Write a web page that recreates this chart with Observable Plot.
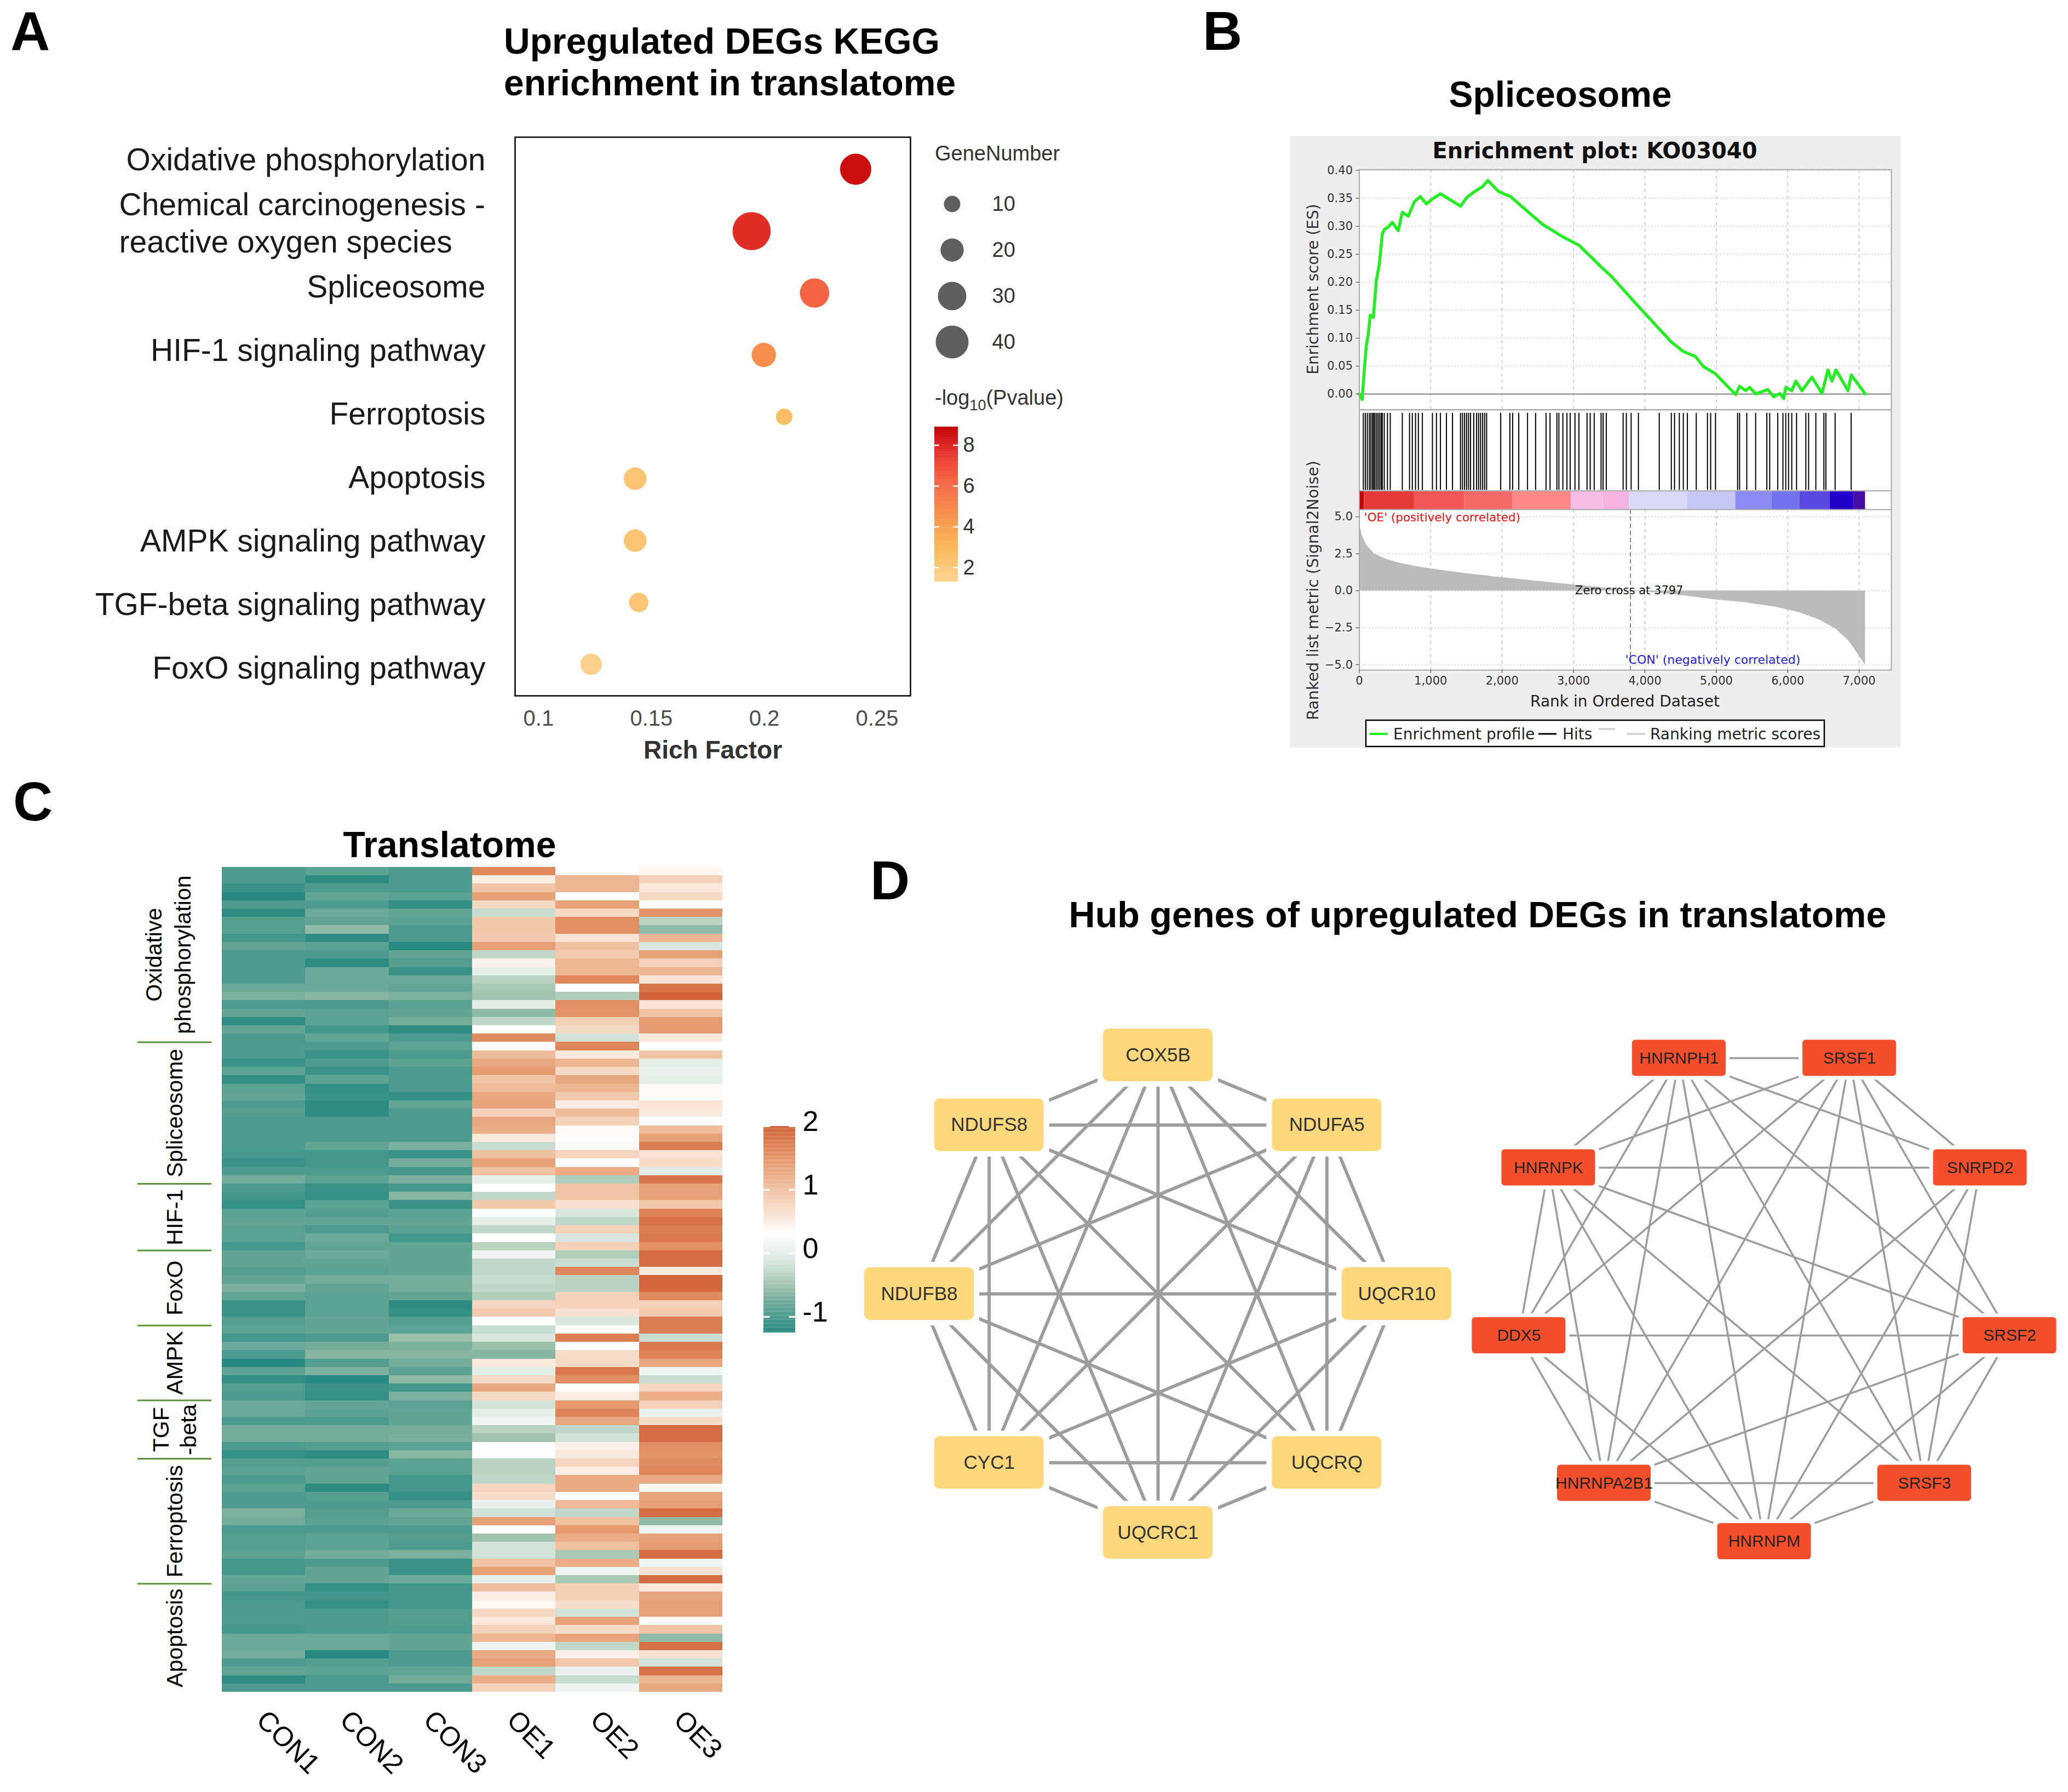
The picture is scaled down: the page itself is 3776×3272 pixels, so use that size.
<!DOCTYPE html>
<html><head><meta charset="utf-8">
<script src="https://cdn.jsdelivr.net/npm/d3@7"></script>
<script src="https://cdn.jsdelivr.net/npm/@observablehq/plot@0.6"></script>
<style>
html,body{margin:0;padding:0;background:#fff;}
#page{position:relative;width:3776px;height:3272px;overflow:hidden;background:#fff;}
</style></head><body><div id="page"></div>
<script>
// ---------------- Panel A data ----------------
const keggTerms = ["Oxidative phosphorylation","Chemical carcinogenesis -\nreactive oxygen species","Spliceosome","HIF-1 signaling pathway","Ferroptosis","Apoptosis","AMPK signaling pathway","TGF-beta signaling pathway","FoxO signaling pathway"];
const keggRichFactor = [0.2405,0.1944,0.2223,0.1998,0.2088,0.1428,0.1428,0.1444,0.1233];
const keggGeneNumber = [36,54,32,22,10,19,19,14,17];
const keggLogP = [8.5,7.7,6.2,4.6,2.6,2.2,2.2,2.1,1.5];
const richTicks = [0.1,0.15,0.2,0.25];
const sizeLegend = [10,20,30,40];
const logPTicks = [2,4,6,8];

// ---------------- Panel B data (GSEA) ----------------
const esRank = [0,40,68,96,124,153,197,237,281,321,349,406,462,546,602,686,771,855,939,1024,1137,1277,1418,1502,1614,1727,1800,1952,2120,2289,2571,2852,3077,3414,3527,3864,4146,4370,4539,4708,4821,4989,5270,5327,5411,5467,5551,5720,5804,5889,5945,5974,6058,6114,6199,6339,6480,6564,6620,6676,6845,6890,7087];
const esValue = [0,-0.01,0.04,0.084,0.106,0.141,0.137,0.202,0.233,0.285,0.294,0.299,0.307,0.292,0.325,0.318,0.344,0.353,0.340,0.349,0.358,0.347,0.336,0.351,0.362,0.371,0.382,0.362,0.353,0.334,0.303,0.281,0.266,0.224,0.211,0.163,0.124,0.093,0.076,0.067,0.049,0.036,-0.001,0.014,0.006,0.012,0,0.008,-0.005,0.001,-0.008,0.012,0.006,0.023,0.006,0.030,0.001,0.043,0.023,0.043,0.006,0.034,0];
const hitRanks = [56,84,112,141,163,186,202,219,242,264,287,309,321,349,394,433,602,703,742,787,827,883,1024,1080,1136,1220,1305,1417,1445,1474,1502,1530,1558,1603,1642,1670,1698,1727,1755,1783,1980,2109,2148,2233,2356,2469,2615,2671,2767,2795,2851,2908,2953,3020,3076,3189,3234,3290,3386,3414,3459,3695,3740,3807,3909,4201,4370,4415,4482,4538,4595,4719,4876,4921,4989,5298,5326,5427,5551,5708,5748,5860,5933,5973,6012,6057,6124,6254,6293,6394,6507,6535,6664,6889];
const metricRank = [0,39,96,208,377,602,883,1164,1558,2008,2514,3020,3414,3797,4257,4595,4989,5382,5832,6169,6451,6676,6845,6957,7041,7087];
const metricValue = [4.5,3.76,3.13,2.51,2.14,1.83,1.58,1.39,1.14,0.90,0.65,0.40,0.21,0,-0.16,-0.35,-0.60,-0.78,-1.09,-1.47,-1.97,-2.59,-3.33,-4.08,-4.70,-5.01];
const barStart = [0,67,770,1473,2148,2964,3414,3779,4595,5270,5776,6170,6591,6929];
const barEnd   = [67,770,1473,2148,2964,3414,3779,4595,5270,5776,6170,6591,6929,7087];
const barColor = ["#c80000","#e43a3a","#f25656","#f76a6a","#fa8888","#f7bde6","#f3b3de","#d9d9f9","#c7c7f5","#8c8cf4","#7272f0","#5848e0","#2400cc","#4a0ca6"];
const zeroCross = 3797;
const esTicks = [0,0.05,0.1,0.15,0.2,0.25,0.3,0.35,0.4];
const rankTicks = [0,1000,2000,3000,4000,5000,6000,7000];
const metricTicks = [-5,-2.5,0,2.5,5];

// ---------------- Panel C data (heatmap, 99 genes) ----------------
const samples = ["CON1","CON2","CON3","OE1","OE2","OE3"];
const groupNames = ["Oxidative\nphosphorylation","Spliceosome","HIF-1","FoxO","AMPK","TGF\n-beta","Ferroptosis","Apoptosis"];
const groupSizes = [21,17,8,9,9,7,15,13];
const CON1 = [-1.0,-1.0,-1.1,-1.25,-1.0,-1.2,-0.95,-0.95,-1.05,-0.85,-1.0,-1.0,-1.0,-1.0,-0.8,-0.7,-1.0,-0.85,-1.2,-0.85,-1.0,-1.0,-1.0,-1.1,-0.9,-1.15,-0.9,-0.85,-1.0,-0.95,-1.0,-1.0,-1.0,
 -1.0,-1.05,-1.1,-1.0,-0.75,-1.0,-1.05,-1.15,-0.9,-0.85,-0.9,-0.9,-1.05,-0.85,-0.85,-0.95,-0.85,-0.7,-0.85,-1.1,-1.1,-0.95,-0.9,-1.05,-0.8,-1.0,-1.25,-0.9,-1.15,-0.95,-1.0,-0.8,-0.8,
 -1.0,-0.75,-0.75,-1.0,-1.15,-0.95,-0.9,-1.0,-0.9,-1.0,-1.0,-0.7,-0.75,-1.0,-0.95,-0.95,-0.9,-1.05,-1.05,-0.85,-0.9,-1.05,-1.0,-1.0,-1.0,-1.05,-0.8,-0.8,-0.75,-1.0,-0.85,-1.2,-1.0];
const CON2 = [-0.9,-1.2,-1.0,-0.85,-1.0,-0.8,-0.85,-0.6,-1.2,-0.9,-1.0,-1.2,-0.8,-0.8,-0.8,-0.65,-1.0,-0.9,-0.9,-1.05,-0.85,-1.0,-1.1,-1.0,-1.1,-0.9,-1.15,-1.1,-1.2,-1.2,-1.0,-1.0,-1.0,
 -0.85,-1.05,-1.05,-1.0,-0.9,-1.1,-1.15,-0.9,-0.95,-0.85,-1.0,-0.8,-0.85,-0.8,-0.85,-0.9,-0.75,-0.85,-0.9,-0.9,-0.9,-0.85,-0.85,-1.0,-0.75,-0.65,-0.95,-0.7,-1.25,-1.1,-1.15,-0.85,-0.9,
 -1.0,-0.75,-0.75,-0.95,-1.2,-0.95,-0.85,-0.85,-1.2,-0.95,-1.0,-0.95,-0.9,-1.0,-0.9,-0.9,-0.75,-1.0,-0.85,-0.85,-1.15,-1.05,-1.15,-1.0,-1.0,-1.0,-0.8,-0.8,-1.25,-0.95,-0.9,-1.0,-1.0];
const CON3 = [-1.0,-1.0,-1.0,-0.9,-1.15,-0.85,-0.9,-1.0,-1.0,-1.25,-0.85,-0.95,-1.1,-0.8,-0.85,-0.7,-0.9,-0.85,-0.75,-1.2,-1.0,-0.9,-1.0,-0.9,-1.0,-1.0,-1.0,-1.15,-0.85,-1.0,-1.0,-1.0,-1.0,
 -0.7,-1.1,-0.75,-1.05,-0.7,-1.05,-0.65,-1.1,-0.9,-0.85,-0.9,-1.05,-0.85,-0.85,-0.85,-0.85,-0.75,-0.75,-0.85,-1.2,-1.15,-0.95,-0.9,-0.55,-0.7,-0.65,-0.75,-0.9,-0.6,-1.05,-0.7,-0.9,-0.85,
 -0.85,-0.75,-0.7,-0.9,-0.65,-0.9,-0.9,-1.05,-1.05,-1.15,-1.0,-0.8,-0.85,-1.0,-0.95,-1.0,-0.7,-1.1,-1.1,-0.8,-1.05,-1.05,-1.05,-0.95,-0.95,-1.0,-0.85,-0.85,-1.0,-1.0,-0.85,-0.75,-1.0];
const OE1 = [1.66,0.5,0.98,1.4,0.72,-0.25,0.94,0.94,0.9,1.4,-0.3,0.45,0.0,-0.35,-0.45,-0.5,-0.03,-0.6,-0.3,0.3,1.62,0.32,1.07,1.32,1.45,0.98,1.11,1.32,1.36,0.81,1.32,1.24,0.55,
 -0.25,1.02,1.4,1.02,0.0,0.3,-0.3,0.94,0.3,0.0,-0.3,0.3,-0.35,0.1,-0.3,-0.3,-0.25,-0.3,-0.4,0.77,0.9,0.3,-0.25,-0.1,-0.55,-0.65,0.55,-0.03,0.72,1.32,0.72,-0.17,0.0,
 0.1,-0.35,-0.5,0.3,0.3,-0.35,-0.35,-0.3,0.77,0.68,0.05,-0.17,1.4,0.32,-0.5,-0.17,-0.17,0.98,1.4,0.05,1.07,0.5,0.4,0.72,0.55,0.81,1.15,0.1,1.28,1.4,-0.3,1.24,0.81];
const OE2 = [0.3,1.15,1.15,0.3,1.4,0.72,1.58,1.58,0.6,1.02,0.9,1.15,1.15,1.66,0.3,-0.4,1.58,1.53,0.85,0.72,-0.17,1.66,0.55,1.15,0.72,1.32,1.15,0.94,0.5,1.07,0.81,0.35,0.32,
 0.35,0.77,0.3,1.28,-0.4,0.98,0.98,0.64,-0.1,-0.3,0.81,-0.1,0.81,-0.4,-0.25,1.66,-0.35,-0.35,0.81,0.81,0.64,-0.1,0.35,1.75,0.3,0.68,0.68,1.79,1.58,0.3,0.5,1.49,1.7,
 1.32,-0.3,-0.17,0.45,0.55,0.77,0.5,1.28,1.28,0.32,1.11,-0.3,1.02,1.49,1.24,1.02,-0.45,1.24,0.1,-0.45,0.85,0.85,0.68,-0.17,1.36,0.68,1.36,-0.3,0.47,0.94,0.05,-0.25,0.1];
const OE3 = [0.4,0.81,0.55,0.72,0.35,1.53,-0.35,-0.6,1.15,-0.1,1.4,0.81,1.15,0.6,1.83,2.0,0.6,0.98,1.45,1.45,0.55,0.3,0.98,0.0,0.05,0.0,0.35,0.33,0.6,0.55,0.3,1.07,1.4,
 1.75,0.6,0.68,-0.03,1.83,1.4,1.4,0.94,1.7,1.87,1.75,1.79,1.58,1.92,1.92,0.55,1.96,1.96,1.62,0.81,0.9,1.75,1.75,-0.25,1.79,1.7,1.32,0.1,-0.25,0.77,1.24,0.81,0.05,
 0.68,1.92,1.92,1.58,1.53,1.62,1.66,1.28,0.4,1.36,1.4,1.92,-0.6,0.1,1.4,1.45,1.92,0.1,0.64,1.92,0.55,1.32,1.4,1.4,0.3,0.98,-0.6,1.87,0.64,-0.17,1.87,1.15,1.32];
const heatLegendTicks = [-1,0,1,2];

// ---------------- Panel D data (hub gene networks) ----------------
const net1Nodes = ["COX5B","NDUFA5","UQCR10","UQCRQ","UQCRC1","CYC1","NDUFB8","NDUFS8"];
const net1Edges = [["COX5B","NDUFA5"],["COX5B","UQCR10"],["COX5B","UQCRQ"],["COX5B","UQCRC1"],["COX5B","CYC1"],["COX5B","NDUFB8"],["COX5B","NDUFS8"],
 ["NDUFA5","UQCR10"],["NDUFA5","UQCRQ"],["NDUFA5","UQCRC1"],["NDUFA5","CYC1"],["NDUFA5","NDUFB8"],["NDUFA5","NDUFS8"],
 ["UQCR10","UQCRQ"],["UQCR10","UQCRC1"],["UQCR10","CYC1"],["UQCR10","NDUFB8"],["UQCR10","NDUFS8"],
 ["UQCRQ","UQCRC1"],["UQCRQ","CYC1"],["UQCRQ","NDUFB8"],["UQCRQ","NDUFS8"],
 ["UQCRC1","CYC1"],["UQCRC1","NDUFB8"],["UQCRC1","NDUFS8"],
 ["CYC1","NDUFB8"],["CYC1","NDUFS8"],["NDUFB8","NDUFS8"]];
const net2Nodes = ["HNRNPH1","SRSF1","SNRPD2","SRSF2","SRSF3","HNRNPM","HNRNPA2B1","DDX5","HNRNPK"];
const net2Edges = [["HNRNPH1","SRSF1"],["HNRNPH1","HNRNPK"],["HNRNPH1","SNRPD2"],["HNRNPH1","DDX5"],["HNRNPH1","HNRNPA2B1"],["HNRNPH1","HNRNPM"],["HNRNPH1","SRSF3"],["HNRNPH1","SRSF2"],
 ["SRSF1","HNRNPK"],["SRSF1","SNRPD2"],["SRSF1","DDX5"],["SRSF1","HNRNPA2B1"],["SRSF1","HNRNPM"],["SRSF1","SRSF3"],["SRSF1","SRSF2"],
 ["HNRNPK","SNRPD2"],["HNRNPK","SRSF2"],["HNRNPK","DDX5"],["HNRNPK","HNRNPA2B1"],["HNRNPK","HNRNPM"],["HNRNPK","SRSF3"],
 ["SNRPD2","HNRNPA2B1"],["SNRPD2","HNRNPM"],["SNRPD2","SRSF3"],
 ["DDX5","SRSF2"],["DDX5","HNRNPA2B1"],["DDX5","HNRNPM"],
 ["SRSF2","HNRNPA2B1"],["SRSF2","HNRNPM"],["SRSF2","SRSF3"],
 ["HNRNPA2B1","SRSF3"],["HNRNPA2B1","HNRNPM"],["SRSF3","HNRNPM"]];

// ---------------- helpers ----------------
const SANS = "'Liberation Sans', Arial, Helvetica, sans-serif";
const DJ = "'DejaVu Sans', sans-serif";
const page = document.getElementById("page");
function place(node, left, top) {
  node.style.position = "absolute"; node.style.left = left + "px"; node.style.top = top + "px";
  page.appendChild(node); return node;
}
function baseStyle(font) { return {fontFamily: font, background: "transparent", overflow: "visible", color: "#000"}; }

// ---------------- Panel A ----------------
const keggRows = keggTerms.map((t, i) => ({term: t, rf: keggRichFactor[i], n: keggGeneNumber[i], p: keggLogP[i]}));
const aColor = {type: "linear", domain: [1.3, 2, 3, 4, 5, 6, 7, 8, 8.9],
  range: ["#fdd594","#fcc878","#fbb658","#f9a04e","#f7844a","#f46a44","#f04a38","#dc2020","#c20000"], clamp: true};
const rScale = {type: "sqrt", domain: [0, 40], range: [0, 30]};
const chemTerm = keggTerms[1];

place(Plot.plot({
  width: 2000, height: 1170, marginLeft: 940, marginRight: 338, marginTop: 20, marginBottom: 130,
  style: baseStyle(SANS),
  x: {domain: [0.0896, 0.2648]},
  y: {domain: keggTerms, type: "band", padding: 0, axis: null},
  r: rScale, color: aColor,
  marks: [
    Plot.axisX({ticks: richTicks, tickFormat: d => String(d), tickSize: 0, tickPadding: 26, fontSize: 40, color: "#4d4d4d", label: null}),
    Plot.text(["Rich Factor"], {text: d => d, frameAnchor: "bottom", dy: 114, fontSize: 46, fontWeight: "bold", fill: "#333"}),
    Plot.dot(keggRows, {x: "rf", y: "term", r: "n", fill: "p"}),
    Plot.frame({stroke: "#000", strokeWidth: 2.5})
  ]
}), 0, 230);

// category labels (ggplot spaces them slightly wider than the dot rows)
place(Plot.plot({
  width: 940, height: 1420, margin: 0, style: baseStyle(SANS),
  y: {type: "point", domain: keggTerms, range: [291.7, 1221], padding: 0, axis: null},
  marks: [
    Plot.text(keggTerms.filter(t => t !== chemTerm), {y: d => d, text: d => d, frameAnchor: "right", textAnchor: "end", dx: -54, fontSize: 57, fill: "#1a1a1a"}),
    Plot.text([chemTerm], {y: d => d, text: d => d, frameAnchor: "left", textAnchor: "start", dx: 217, dy: -3, fontSize: 57, lineHeight: 1.19, fill: "#1a1a1a"})
  ]
}), 0, 0);

// size legend
place(Plot.plot({
  width: 300, height: 330, margin: 0, style: baseStyle(SANS),
  y: {type: "point", domain: sizeLegend, range: [51, 305], padding: 0, axis: null},
  r: rScale,
  marks: [
    Plot.dot(sizeLegend, {y: d => d, r: d => d, frameAnchor: "left", dx: 48, fill: "#5f5f5f"}),
    Plot.text(sizeLegend, {y: d => d, text: d => String(d), frameAnchor: "left", dx: 121, textAnchor: "start", fontSize: 38, fill: "#333"})
  ]
}), 1690, 320);

// color legend
const aGrad = d3.range(1.3, 8.9, 0.04);
place(Plot.plot({
  width: 280, height: 330, marginLeft: 16, marginRight: 221, marginTop: 19, marginBottom: 28,
  style: baseStyle(SANS),
  x: {domain: [0, 1], axis: null}, y: {domain: [1.3, 8.9], axis: null}, color: aColor,
  marks: [
    Plot.rect(aGrad, {x1: 0, x2: 1, y1: d => d, y2: d => Math.min(8.9, d + 0.05), fill: d => d + 0.02}),
    Plot.ruleY(logPTicks, {x1: 0, x2: 0.2, stroke: "white", strokeWidth: 2.5}),
    Plot.ruleY(logPTicks, {x1: 0.8, x2: 1, stroke: "white", strokeWidth: 2.5}),
    Plot.axisY({ticks: logPTicks, anchor: "right", tickSize: 0, tickPadding: 9, fontSize: 38, color: "#333", label: null})
  ]
}), 1690, 760);

// ---------------- Panel B ----------------
const gsea = document.createElement("div");
gsea.style.width = "1115px"; gsea.style.height = "1117px"; gsea.style.background = "#eeeeee";
place(gsea, 2355, 248);
function placeIn(parent, node, left, top) {
  node.style.position = "absolute"; node.style.left = left + "px"; node.style.top = top + "px";
  parent.appendChild(node); return node;
}
const esData = esRank.map((r, i) => ({r, v: esValue[i]}));
const metricData = metricRank.map((r, i) => ({r, v: metricValue[i]}));
const barData = barStart.map((s, i) => ({s, e: barEnd[i], c: barColor[i]}));
const X = {domain: [0, 7452]};

placeIn(gsea, Plot.plot({
  width: 1115, height: 460, marginLeft: 126.5, marginRight: 17, marginTop: 11.2, marginBottom: 10.4,
  style: baseStyle(DJ),
  x: {...X, axis: null}, y: {domain: [-0.0281, 0.4013]},
  marks: [
    Plot.frame({fill: "white"}),
    Plot.ruleY(esTicks, {stroke: "#cfcfcf", strokeWidth: 2, strokeDasharray: "2,4"}),
    Plot.ruleX(rankTicks.slice(1), {stroke: "#d0d0d0", strokeWidth: 2, strokeDasharray: "6,6"}),
    Plot.ruleY([0], {stroke: "#999", strokeWidth: 2.5}),
    Plot.line(esData, {x: "r", y: "v", stroke: "#22ee22", strokeWidth: 5.5}),
    Plot.frame({stroke: "#aaa", strokeWidth: 2}),
    Plot.axisY({ticks: esTicks, tickFormat: ".2f", tickSize: 6, tickPadding: 6, fontSize: 21, color: "#333", label: null})
  ]
}), 0, 50);

placeIn(gsea, Plot.plot({
  width: 1115, height: 182.4, marginLeft: 126.5, marginRight: 17, marginTop: 0, marginBottom: 0,
  style: baseStyle(DJ),
  x: {...X, axis: null}, y: {domain: [0, 1], axis: null},
  marks: [
    Plot.frame({fill: "white"}),
    Plot.ruleX(hitRanks, {x: d => d, y1: 0.197, y2: 0.968, stroke: "#000", strokeWidth: 2}),
    Plot.rect(barData, {x1: "s", x2: "e", y1: 0.002, y2: 0.19, fill: "c"}),
    Plot.ruleY([0.19], {stroke: "#aaa", strokeWidth: 2}),
    Plot.frame({stroke: "#aaa", strokeWidth: 2})
  ]
}), 0, 499.6);

placeIn(gsea, Plot.plot({
  width: 1115, height: 383, marginLeft: 126.5, marginRight: 17, marginTop: 0, marginBottom: 90,
  style: baseStyle(DJ),
  x: X, y: {domain: [-5.36, 5.49]},
  marks: [
    Plot.frame({fill: "white"}),
    Plot.ruleY(metricTicks, {stroke: "#cfcfcf", strokeWidth: 2, strokeDasharray: "2,4"}),
    Plot.ruleX(rankTicks.slice(1), {stroke: "#d0d0d0", strokeWidth: 2, strokeDasharray: "6,6"}),
    Plot.areaY(metricData, {x: "r", y: "v", fill: "#bbbbbb"}),
    Plot.ruleX([zeroCross], {stroke: "#888", strokeWidth: 2, strokeDasharray: "8,5"}),
    Plot.text(["Zero cross at " + zeroCross], {x: zeroCross - 17, y: 0, text: d => d, fontSize: 21, fill: "#111"}),
    Plot.text(["'OE' (positively correlated)"], {x: 67, y: 4.94, text: d => d, textAnchor: "start", fontSize: 21.5, fill: "#ee1111"}),
    Plot.text(["'CON' (negatively correlated)"], {x: 3724, y: -4.69, text: d => d, textAnchor: "start", fontSize: 22, fill: "#2222dd"}),
    Plot.frame({stroke: "#aaa", strokeWidth: 2}),
    Plot.axisY({ticks: metricTicks, tickFormat: ".1f", tickSize: 6, tickPadding: 6, fontSize: 21, color: "#333", label: null}),
    Plot.axisX({ticks: rankTicks, tickFormat: d3.format(","), tickSize: 6, tickPadding: 6, fontSize: 21, color: "#333", label: null})
  ]
}), 0, 682);

// ---------------- Panel C ----------------
const heatCols = [CON1, CON2, CON3, OE1, OE2, OE3];
const heatCells = [];
heatCols.forEach((col, j) => col.forEach((v, i) => heatCells.push({j, i, v})));
const nRows = CON1.length;
const groupStart = groupSizes.map((s, k) => d3.sum(groupSizes.slice(0, k)));
const groups = groupNames.map((name, k) => ({name, mid: groupStart[k] + groupSizes[k] / 2}));
const bounds = groupStart.slice(1);
const heatColor = {type: "linear",
  domain: [-1.25, -1.1, -1.0, -0.85, -0.7, -0.5, -0.25, 0.0, 0.3, 0.6, 1.0, 1.5, 2.0],
  range: ["#27897f","#3b9387","#4d9b8e","#62a595","#7cb09e","#a2c4af","#c8dccf","#e6eee8","#ffffff","#f8e3d4","#f0c3a3","#e5986b","#d2633a"],
  clamp: true};

place(Plot.plot({
  width: 1560, height: 1772, marginLeft: 404.7, marginRight: 240.8, marginTop: 83, marginBottom: 183,
  style: baseStyle(SANS),
  x: {domain: [0, 6], axis: null},
  y: {domain: [0, nRows], reverse: true, axis: null},
  color: heatColor,
  marks: [
    Plot.rect(heatCells, {x1: d => d.j, x2: d => d.j + 1, y1: d => d.i, y2: d => d.i + 1, fill: "v", shapeRendering: "crispEdges"}),
    Plot.text(samples, {x: (d, i) => i + 0.5, text: d => d, frameAnchor: "bottom", rotate: 45, textAnchor: "start", dx: -16, dy: 54, fontSize: 50}),
    Plot.ruleY(bounds, {y: d => d, x1: -1.008, x2: -0.122, stroke: "#5e8f3e", strokeWidth: 3}),
    Plot.text(groups.slice(0, 1), {y: "mid", text: "name", frameAnchor: "left", textAnchor: "middle", dx: -101, rotate: -90, fontSize: 41, lineHeight: 1.29}),
    Plot.text(groups.slice(1), {y: "mid", text: "name", frameAnchor: "left", textAnchor: "middle", dx: -88, rotate: -90, fontSize: 41, lineHeight: 1.22})
  ]
}), 0, 1500);

const hGrad = d3.range(-1.25, 2.0, 0.01);
place(Plot.plot({
  width: 200, height: 420, marginLeft: 24, marginRight: 118, marginTop: 26, marginBottom: 17,
  style: baseStyle(SANS),
  x: {domain: [0, 1], axis: null}, y: {domain: [-1.25, 2.0], axis: null}, color: heatColor,
  marks: [
    Plot.rect(hGrad, {x1: 0, x2: 1, y1: d => d, y2: d => Math.min(2.0, d + 0.013), fill: d => d + 0.005}),
    Plot.ruleY(heatLegendTicks, {x1: 0, x2: 0.2, stroke: "white", strokeWidth: 3}),
    Plot.ruleY(heatLegendTicks, {x1: 0.8, x2: 1, stroke: "white", strokeWidth: 3}),
    Plot.axisY({ticks: heatLegendTicks, tickFormat: d => String(d), anchor: "right", tickSize: 0, tickPadding: 13, dy: -8, fontSize: 52, color: "#000", label: null})
  ]
}), 1370, 2030);

// ---------------- Panel D ----------------
function network(nodes, edges, o) {
  const n = nodes.length;
  const pos = new Map(nodes.map((name, k) => {
    const t = (o.start + k * 360 / n) * Math.PI / 180;
    return [name, {name, x: Math.cos(t), y: -Math.sin(t)}];
  }));
  const pts = [...pos.values()];
  const links = edges.map(([a, b]) => ({a: pos.get(a), b: pos.get(b)}));
  const hw = o.boxW / 2 / o.radius, hh = o.boxH / 2 / o.radius, g = o.gap / o.radius;
  return Plot.plot({
    width: o.width, height: o.height, margin: 0, style: baseStyle(SANS),
    x: {domain: [-o.cx / o.radius, (o.width - o.cx) / o.radius], axis: null},
    y: {domain: [-(o.height - o.cy) / o.radius, o.cy / o.radius], axis: null},
    marks: [
      Plot.link(links, {x1: d => d.a.x, y1: d => d.a.y, x2: d => d.b.x, y2: d => d.b.y, stroke: "#9d9d9d", strokeWidth: o.edgeWidth}),
      Plot.rect(pts, {x1: d => d.x - hw - g, x2: d => d.x + hw + g, y1: d => d.y - hh - g, y2: d => d.y + hh + g, fill: "white"}),
      Plot.rect(pts, {x1: d => d.x - hw, x2: d => d.x + hw, y1: d => d.y - hh, y2: d => d.y + hh, fill: o.fill, rx: o.rx}),
      Plot.text(pts, {x: "x", y: "y", text: "name", fontSize: o.fontSize, fill: o.textColor})
    ]
  });
}
place(network(net1Nodes, net1Edges, {start: -90, radius: 436, width: 1130, height: 1030, cx: 565, cy: 515,
  boxW: 200, boxH: 96, gap: 10, rx: 10, fill: "#ffd87c", edgeWidth: 6, fontSize: 35, textColor: "#333"}), 1549, 1847);
place(network(net2Nodes, net2Edges, {start: -110, radius: 455, width: 1115, height: 1030, cx: 560, cy: 515,
  boxW: 171, boxH: 66, gap: 7, rx: 6, fill: "#f54e2b", edgeWidth: 3.6, fontSize: 30, textColor: "#222"}), 2661, 1844);

// ---------------- text overlay ----------------
const NS = "http://www.w3.org/2000/svg";
const ov = document.createElementNS(NS, "svg");
ov.setAttribute("width", 3776); ov.setAttribute("height", 3272);
ov.style.position = "absolute"; ov.style.left = "0px"; ov.style.top = "0px"; ov.style.pointerEvents = "none";
page.appendChild(ov);
function T(str, x, y, o = {}) {
  const t = document.createElementNS(NS, "text");
  t.setAttribute("x", x); t.setAttribute("y", y);
  t.setAttribute("font-family", o.font || SANS);
  t.setAttribute("font-size", o.size || 40);
  if (o.weight) t.setAttribute("font-weight", o.weight);
  t.setAttribute("fill", o.fill || "#000");
  t.setAttribute("text-anchor", o.anchor || "start");
  if (o.baseline) t.setAttribute("dominant-baseline", o.baseline);
  if (o.rotate) t.setAttribute("transform", `rotate(${o.rotate} ${x} ${y})`);
  t.textContent = str; ov.appendChild(t); return t;
}
T("A", 19, 92, {size: 100, weight: "bold"});
T("B", 2196, 91, {size: 100, weight: "bold"});
T("C", 24, 1498, {size: 100, weight: "bold"});
T("D", 1589, 1642, {size: 100, weight: "bold"});
T("Upregulated DEGs KEGG", 920, 98, {size: 66, weight: "bold"});
T("enrichment in translatome", 920, 174, {size: 66, weight: "bold"});
T("Spliceosome", 2849, 195, {size: 66, weight: "bold", anchor: "middle"});
T("Translatome", 821, 1565, {size: 66, weight: "bold", anchor: "middle"});
T("Hub genes of upregulated DEGs in translatome", 2698, 1693, {size: 66.5, weight: "bold", anchor: "middle"});
T("GeneNumber", 1707, 293, {size: 38, fill: "#333"});
const lp = T("-log", 1707, 739, {size: 38, fill: "#333"});
const sub = document.createElementNS(NS, "tspan"); sub.setAttribute("font-size", 27); sub.setAttribute("dy", 10); sub.textContent = "10"; lp.appendChild(sub);
const rest = document.createElementNS(NS, "tspan"); rest.setAttribute("dy", -10); rest.textContent = "(Pvalue)"; lp.appendChild(rest);
// GSEA texts
T("Enrichment plot: KO03040", 2912, 289, {font: DJ, size: 40, weight: "bold", anchor: "middle", fill: "#111"});
T("Enrichment score (ES)", 2397, 528, {font: DJ, size: 28, anchor: "middle", baseline: "central", rotate: -90, fill: "#333"});
T("Ranked list metric (Signal2Noise)", 2397, 1078, {font: DJ, size: 28.5, anchor: "middle", baseline: "central", rotate: -90, fill: "#333"});
T("Rank in Ordered Dataset", 2967, 1280, {font: DJ, size: 28, anchor: "middle", baseline: "central", fill: "#222"});
// GSEA legend box
function L(x1, y1, x2, y2, stroke, w) {
  const l = document.createElementNS(NS, "line");
  l.setAttribute("x1", x1); l.setAttribute("y1", y1); l.setAttribute("x2", x2); l.setAttribute("y2", y2);
  l.setAttribute("stroke", stroke); l.setAttribute("stroke-width", w); ov.appendChild(l);
}
const box = document.createElementNS(NS, "rect");
box.setAttribute("x", 2494); box.setAttribute("y", 1315); box.setAttribute("width", 837); box.setAttribute("height", 48);
box.setAttribute("fill", "white"); box.setAttribute("stroke", "#000"); box.setAttribute("stroke-width", 2.5);
ov.appendChild(box);
L(2501, 1340, 2534, 1340, "#22ee22", 4);
T("Enrichment profile", 2544, 1340, {font: DJ, size: 28, baseline: "central", fill: "#222"});
L(2809, 1340, 2842, 1340, "#000", 3);
T("Hits", 2853, 1340, {font: DJ, size: 28, baseline: "central", fill: "#222"});
L(2919, 1331, 2949, 1331, "#cccccc", 3);
L(2971, 1340, 3004, 1340, "#cccccc", 3);
T("Ranking metric scores", 3013, 1340, {font: DJ, size: 28, baseline: "central", fill: "#222"});
</script></body></html>
